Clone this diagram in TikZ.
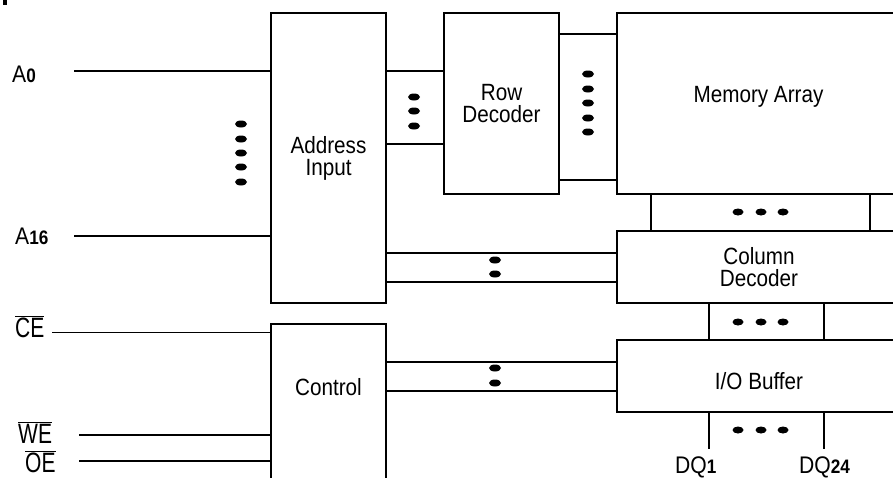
\documentclass[tikz,border=0pt]{standalone}
\usepackage{fontspec}
\setmainfont[FakeStretch=0.88]{Liberation Sans}
\newfontfamily\narrowfont[FakeStretch=0.75]{Liberation Sans}
\usepackage{tikz}
\usetikzlibrary{positioning}
\newcommand{\blocktext}{\fontsize{23.5}{22}\selectfont}
\newcommand{\pintext}{\fontsize{24}{24}\selectfont}
\newcommand{\negtext}{\narrowfont\fontsize{28}{28}\selectfont}
\newcommand{\pinsub}[1]{{\fontsize{19.5}{19.5}\selectfont\bfseries #1}}
\newcommand{\negsig}[1]{$\overline{\mbox{#1}}$}
\tikzset{
    block/.style={ % the functional blocks of the chip
        draw, rectangle,
        line width=1.6pt,
        inner sep=0pt, outer sep=0pt,
        align=center,
        font=\blocktext
    },
    bus/.style={line width=1.6pt}, % lines between blocks
    pinline/.style={line width=1.6pt}, % lines from the pins
    pin/.style={inner sep=0pt, font=\pintext},
    busdot/.style={fill=black}
}
\begin{document}
\begin{tikzpicture}[x=1pt, y=-1pt]
    \useasboundingbox (0,0) rectangle (893,477);
    \fill (3,0) rectangle (7,5);

    % blocks
    \node[block, anchor=north west, minimum width=115pt, minimum height=290pt] (addr) at (271,13) {Address\\Input};
    \node[block, right=58pt of addr.north east, anchor=north west, minimum width=115pt, minimum height=181pt] (row) {Row\\Decoder};
    \node[block, right=58pt of row.north east, anchor=north west, minimum width=283pt, text height=89pt, text depth=92pt] (mem) {Memory Array};
    \node[block, below=37pt of mem.south west, anchor=north west, minimum width=284pt, minimum height=72pt] (col) {Column\\Decoder};
    \node[block, below=37pt of col.south west, anchor=north west, minimum width=284pt, text height=49pt, text depth=23pt] (io) {I/O Buffer};
    \node[block, below=21pt of addr.south west, anchor=north west, minimum width=115pt, text height=71pt, text depth=166pt] (ctrl) {Control};

    % buses between blocks
    \foreach \y in {71,144} \draw[bus] (addr.east |- 0,\y) -- (row.west |- 0,\y);
    \foreach \y in {34,180} \draw[bus] (row.east |- 0,\y) -- (mem.west |- 0,\y);
    \foreach \x in {651,870} \draw[bus] (mem.south -| \x,0) -- (col.north -| \x,0);
    \foreach \y in {253,282} \draw[bus] (addr.east |- 0,\y) -- (col.west |- 0,\y);
    \foreach \x in {709,824} \draw[bus] (col.south -| \x,0) -- (io.north -| \x,0);
    \foreach \y in {362,391} \draw[bus] (ctrl.east |- 0,\y) -- (io.west |- 0,\y);

    % dots
    \foreach \y in {124,139,153,167,182} \fill[busdot] (241,\y) ellipse (6 and 3.5);
    \foreach \y in {97,111,126} \fill[busdot] (414,\y) ellipse (6 and 3.5);
    \foreach \y in {74,89,103,118,132} \fill[busdot] (588,\y) ellipse (6 and 3.5);
    \foreach \y in {260,274,368,383} \fill[busdot] (495,\y) ellipse (6 and 3.5);
    \foreach \y in {212,322,430}
        \foreach \x in {738,761,783} \fill[busdot] (\x,\y) ellipse (5.5 and 3.5);

    % pins
    \node[pin, anchor=base west] (a0) at (12,82) {A\pinsub{0}};
    \node[pin, anchor=base west] (a16) at (15,244) {A\pinsub{16}};
    \node[pin, anchor=base west, font=\negtext] (ce) at (15,337) {\negsig{CE}};
    \node[pin, anchor=base west, font=\negtext] (we) at (18,443) {\negsig{WE}};
    \node[pin, anchor=base west, font=\negtext] (oe) at (25,472) {\negsig{OE}};
    \node[pin, anchor=base west] (dq1) at (675,473) {DQ\pinsub{1}};
    \node[pin, anchor=base west] (dq24) at (799,473) {DQ\pinsub{24}};

    \coordinate (a0in) at (74,71);
    \coordinate (a16in) at (74,236);
    \coordinate (cein) at (52,332);
    \coordinate (wein) at (79,435);
    \coordinate (oein) at (79,461);
    \coordinate (dq1out) at (709,449);
    \coordinate (dq24out) at (824,449);

    \draw[pinline] (a0in) -- (addr.west |- a0in);
    \draw[pinline] (a16in) -- (addr.west |- a16in);
    \draw[line width=0.9pt] (cein) -- (ctrl.west |- cein);
    \draw[pinline] (wein) -- (ctrl.west |- wein);
    \draw[pinline] (oein) -- (ctrl.west |- oein);
    \draw[pinline] (io.south -| dq1out) -- (dq1out);
    \draw[pinline] (io.south -| dq24out) -- (dq24out);
\end{tikzpicture}
\end{document}
